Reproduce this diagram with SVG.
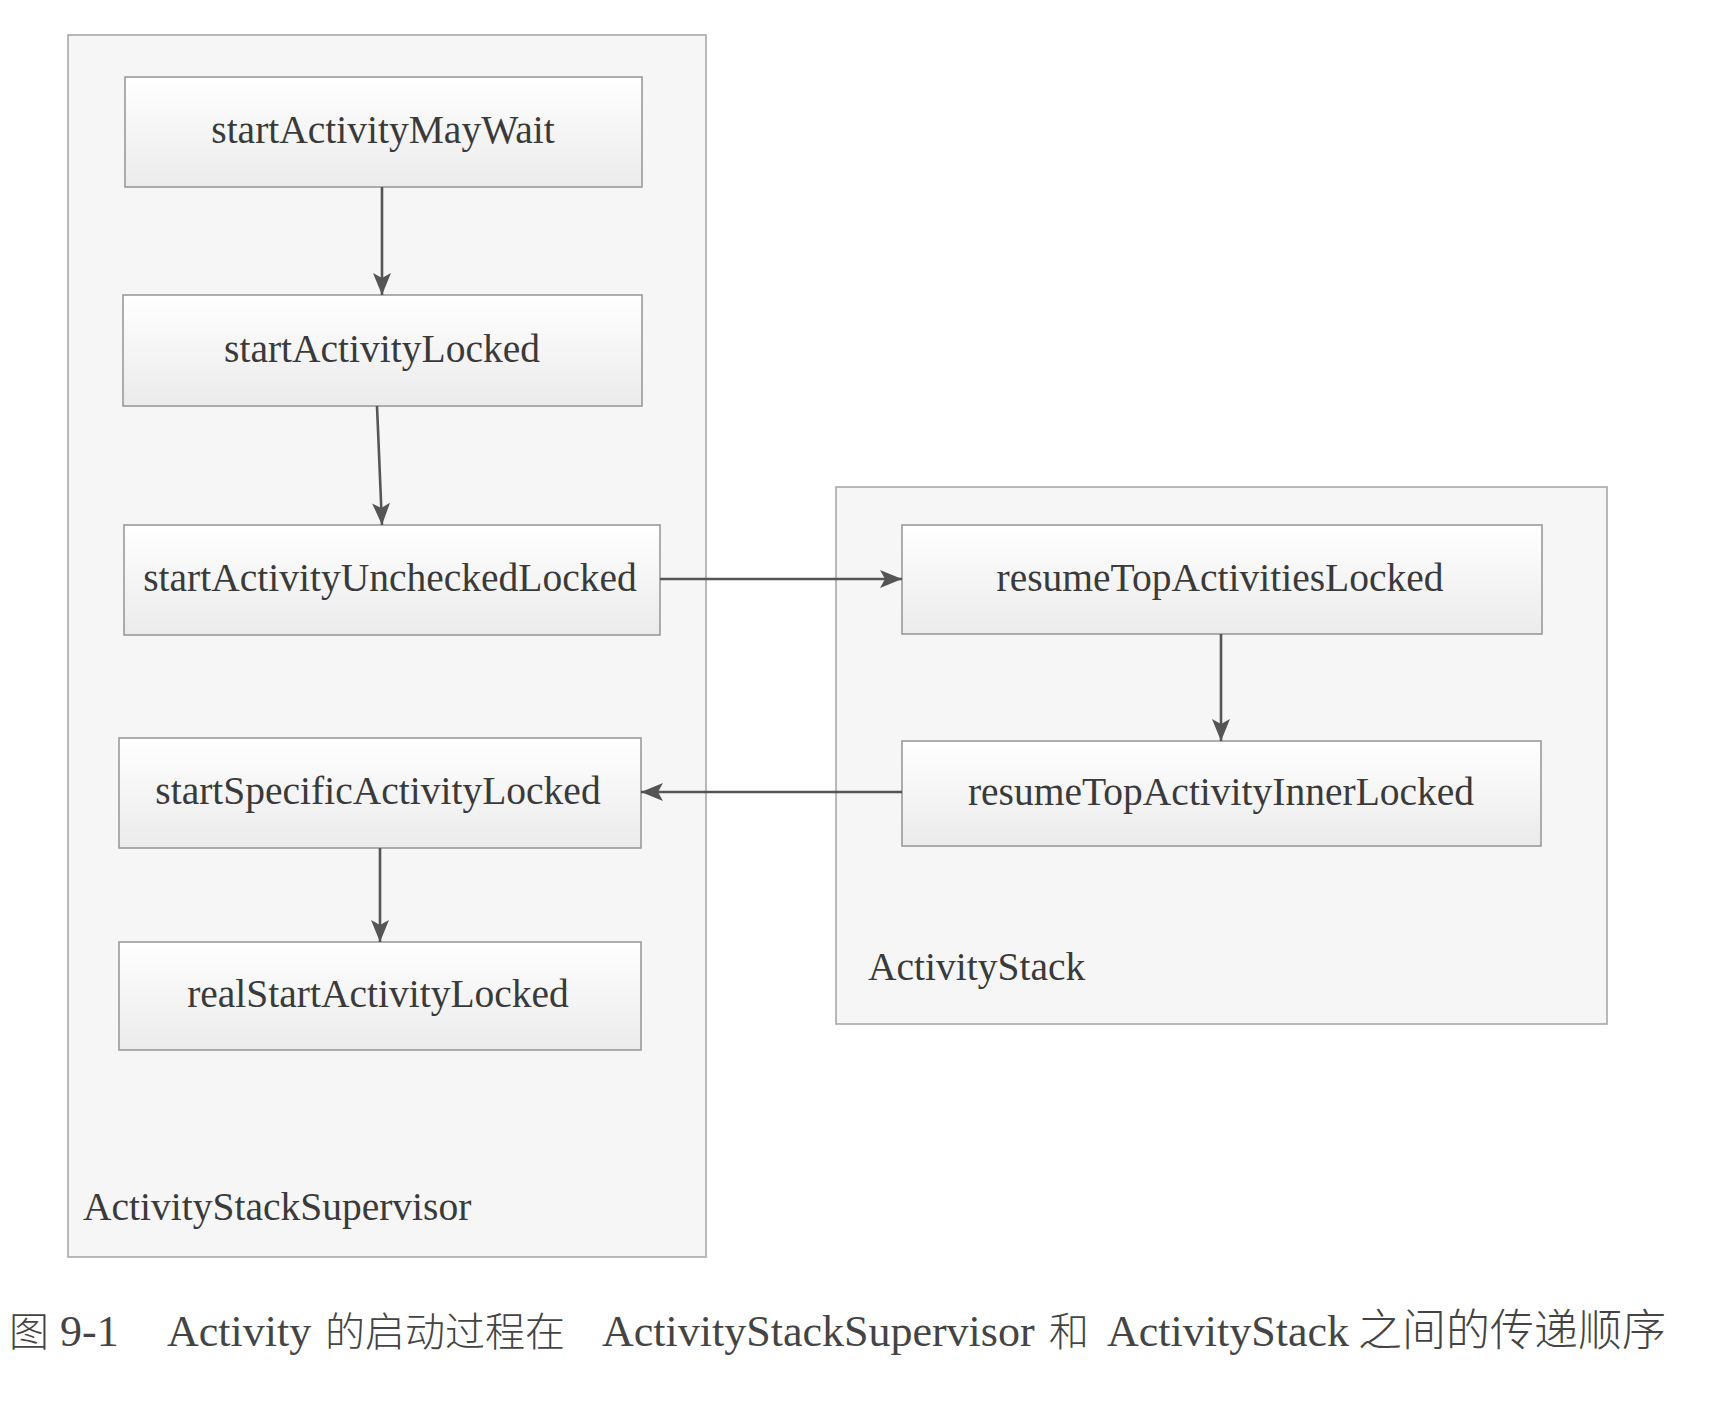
<svg xmlns="http://www.w3.org/2000/svg" width="1722" height="1404" viewBox="0 0 1722 1404">
<style>
.container{fill:#f6f6f6;stroke:#a8a8a8;stroke-width:1.6}
.node{fill:url(#ng);stroke:#9a9a9a;stroke-width:1.6}
.lbl{font-family:"Liberation Serif","Times New Roman",serif;font-size:39.5px;fill:#3a3a3a;text-anchor:middle}
.clbl{font-family:"Liberation Serif","Times New Roman",serif;font-size:39.5px;fill:#3a3a3a}
.edge{fill:none;stroke:#555;stroke-width:2.6;marker-end:url(#arr)}
.cap{font-family:"Liberation Serif","Noto Sans CJK SC",serif;font-size:44px;fill:#444}
.cjk{font-family:"Noto Sans CJK SC",sans-serif;font-size:40px;font-weight:300}
.cjk2{font-family:"Noto Sans CJK SC",sans-serif;font-size:44px;font-weight:300}
</style>
<defs>
<linearGradient id="ng" x1="0" y1="0" x2="0" y2="1">
<stop offset="0" stop-color="#ffffff"/>
<stop offset="1" stop-color="#ebebeb"/>
</linearGradient>
<marker id="arr" markerUnits="userSpaceOnUse" markerWidth="24" markerHeight="20" refX="22" refY="9" orient="auto">
<path d="M0,0 L22,9 L0,18 L5,9 Z" fill="#555"/>
</marker>
</defs>
<rect width="1722" height="1404" fill="#ffffff"/>

<g id="ActivityStackSupervisor">
<rect class="container" x="68" y="35" width="638" height="1222"/>
<text class="clbl" x="83" y="1220">ActivityStackSupervisor</text>
</g>
<g id="ActivityStack">
<rect class="container" x="836" y="487" width="771" height="537"/>
<text class="clbl" x="868" y="980">ActivityStack</text>
</g>

<g id="startActivityMayWait">
<rect class="node" x="125" y="77" width="517" height="110"/>
<text class="lbl" x="383" y="143">startActivityMayWait</text>
</g>
<g id="startActivityLocked">
<rect class="node" x="123" y="295" width="519" height="111"/>
<text class="lbl" x="382" y="362">startActivityLocked</text>
</g>
<g id="startActivityUncheckedLocked">
<rect class="node" x="124" y="525" width="536" height="110"/>
<text class="lbl" x="390" y="591">startActivityUncheckedLocked</text>
</g>
<g id="startSpecificActivityLocked">
<rect class="node" x="119" y="738" width="522" height="110"/>
<text class="lbl" x="378" y="804">startSpecificActivityLocked</text>
</g>
<g id="realStartActivityLocked">
<rect class="node" x="119" y="942" width="522" height="108"/>
<text class="lbl" x="378" y="1007">realStartActivityLocked</text>
</g>
<g id="resumeTopActivitiesLocked">
<rect class="node" x="902" y="525" width="640" height="109"/>
<text class="lbl" x="1220" y="591">resumeTopActivitiesLocked</text>
</g>
<g id="resumeTopActivityInnerLocked">
<rect class="node" x="902" y="741" width="639" height="105"/>
<text class="lbl" x="1221" y="805">resumeTopActivityInnerLocked</text>
</g>

<g id="connectors">
<path class="edge" d="M382,187 L382,295"/>
<path class="edge" d="M377,406 L382,525"/>
<path class="edge" d="M660,579 L902,579"/>
<path class="edge" d="M1221,634 L1221,741"/>
<path class="edge" d="M902,792 L641,792"/>
<path class="edge" d="M380,848 L380,942"/>
</g>

<g id="caption">
<text class="cap" y="1346"><tspan class="cjk" x="9">图</tspan><tspan x="60">9-1</tspan><tspan x="167">Activity</tspan><tspan class="cjk" x="325">的启动过程在</tspan><tspan x="602">ActivityStackSupervisor</tspan><tspan class="cjk" x="1049">和</tspan><tspan x="1107">ActivityStack</tspan><tspan class="cjk2" x="1358">之间的传递顺序</tspan></text>
</g>
</svg>
